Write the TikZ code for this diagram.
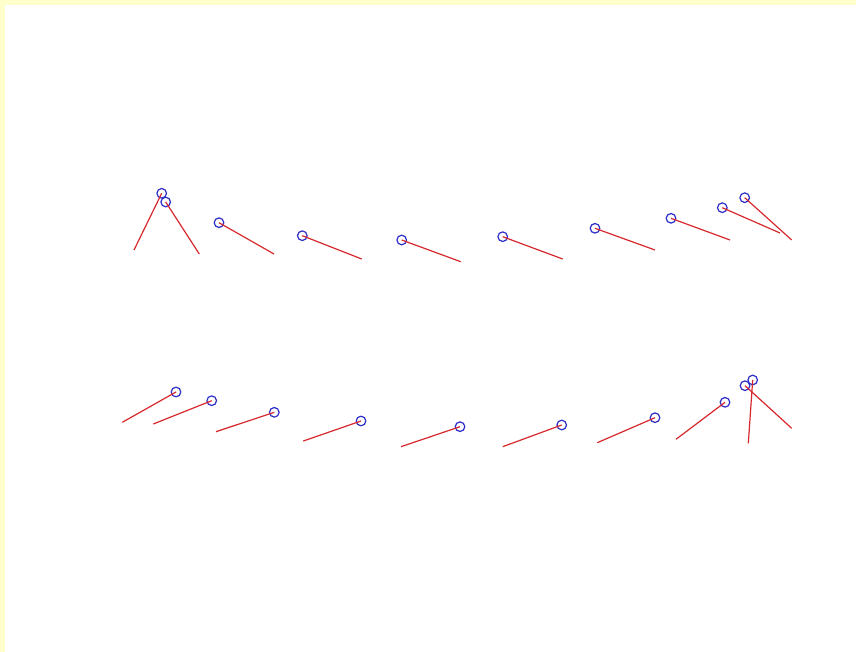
\documentclass[tikz,border=0pt]{standalone}
\usepackage{tikz}
\usetikzlibrary{positioning}
\definecolor{paleyellow}{RGB}{255,255,204}
\definecolor{bobblue}{RGB}{45,45,200}
\definecolor{rodred}{RGB}{215,40,45}
\tikzstyle{bob}  = [draw=bobblue, circle, line width=1.2pt, minimum size=9.6pt, inner sep=0pt, outer sep=0pt]
\tikzstyle{rod}  = [draw=rodred, line width=1.2pt]
\begin{document}
\begin{tikzpicture}[x=1pt,y=-1pt]

\useasboundingbox (0,0) rectangle (856,652);
\fill[paleyellow] (0,0) rectangle (856,652);
\fill[white] (5,5.5) rectangle (856,652);

% upper row
\coordinate (T1e)  at (134,250);
\coordinate (T2e)  at (199.3,254);
\coordinate (T3e)  at (274,254);
\coordinate (T4e)  at (361.7,259);
\coordinate (T5e)  at (460.7,261.7);
\coordinate (T6e)  at (562.7,259);
\coordinate (T7e)  at (655,250);
\coordinate (T8e)  at (730,240);
\coordinate (T9e)  at (780,233);
\coordinate (T10e) at (791.7,240);

\node[bob] (T1)  at (161.7,193.3) {};
\node[bob] (T2)  at (165.7,202)   {};
\node[bob] (T3)  at (219,222.7)   {};
\node[bob] (T4)  at (302.3,235.7) {};
\node[bob] (T5)  at (401.7,240)   {};
\node[bob] (T6)  at (502.7,236.7) {};
\node[bob] (T7)  at (595,228.3)   {};
\node[bob] (T8)  at (671,218.3)   {};
\node[bob] (T9)  at (722.3,207.7) {};
\node[bob] (T10) at (744.7,197.7) {};

\draw[rod] (T1.center)  -- (T1e);
\draw[rod] (T2.center)  -- (T2e);
\draw[rod] (T3.center)  -- (T3e);
\draw[rod] (T4.center)  -- (T4e);
\draw[rod] (T5.center)  -- (T5e);
\draw[rod] (T6.center)  -- (T6e);
\draw[rod] (T7.center)  -- (T7e);
\draw[rod] (T8.center)  -- (T8e);
\draw[rod] (T9.center)  -- (T9e);
\draw[rod] (T10.center) -- (T10e);

% lower row
\coordinate (B1e)  at (122.3,422.3);
\coordinate (B2e)  at (153.3,424);
\coordinate (B3e)  at (216,431.7);
\coordinate (B4e)  at (303.3,441);
\coordinate (B5e)  at (401,446.7);
\coordinate (B6e)  at (502.7,446.7);
\coordinate (B7e)  at (597.3,442.7);
\coordinate (B8e)  at (676,439.3);
\coordinate (B9e)  at (791.7,428.3);
\coordinate (B10e) at (748.3,443.3);

\node[bob] (B1)  at (176,392)     {};
\node[bob] (B2)  at (211.7,400.7) {};
\node[bob] (B3)  at (274.3,412.3) {};
\node[bob] (B4)  at (361,421)     {};
\node[bob] (B5)  at (460,426.7)   {};
\node[bob] (B6)  at (561.7,425)   {};
\node[bob] (B7)  at (655,417.7)   {};
\node[bob] (B8)  at (725,402.3)   {};
\node[bob] (B9)  at (745,385.7)   {};
\node[bob] (B10) at (752.7,380)   {};

\draw[rod] (B1.center)  -- (B1e);
\draw[rod] (B2.center)  -- (B2e);
\draw[rod] (B3.center)  -- (B3e);
\draw[rod] (B4.center)  -- (B4e);
\draw[rod] (B5.center)  -- (B5e);
\draw[rod] (B6.center)  -- (B6e);
\draw[rod] (B7.center)  -- (B7e);
\draw[rod] (B8.center)  -- (B8e);
\draw[rod] (B9.center)  -- (B9e);
\draw[rod] (B10.center) -- (B10e);

\end{tikzpicture}
\end{document}
